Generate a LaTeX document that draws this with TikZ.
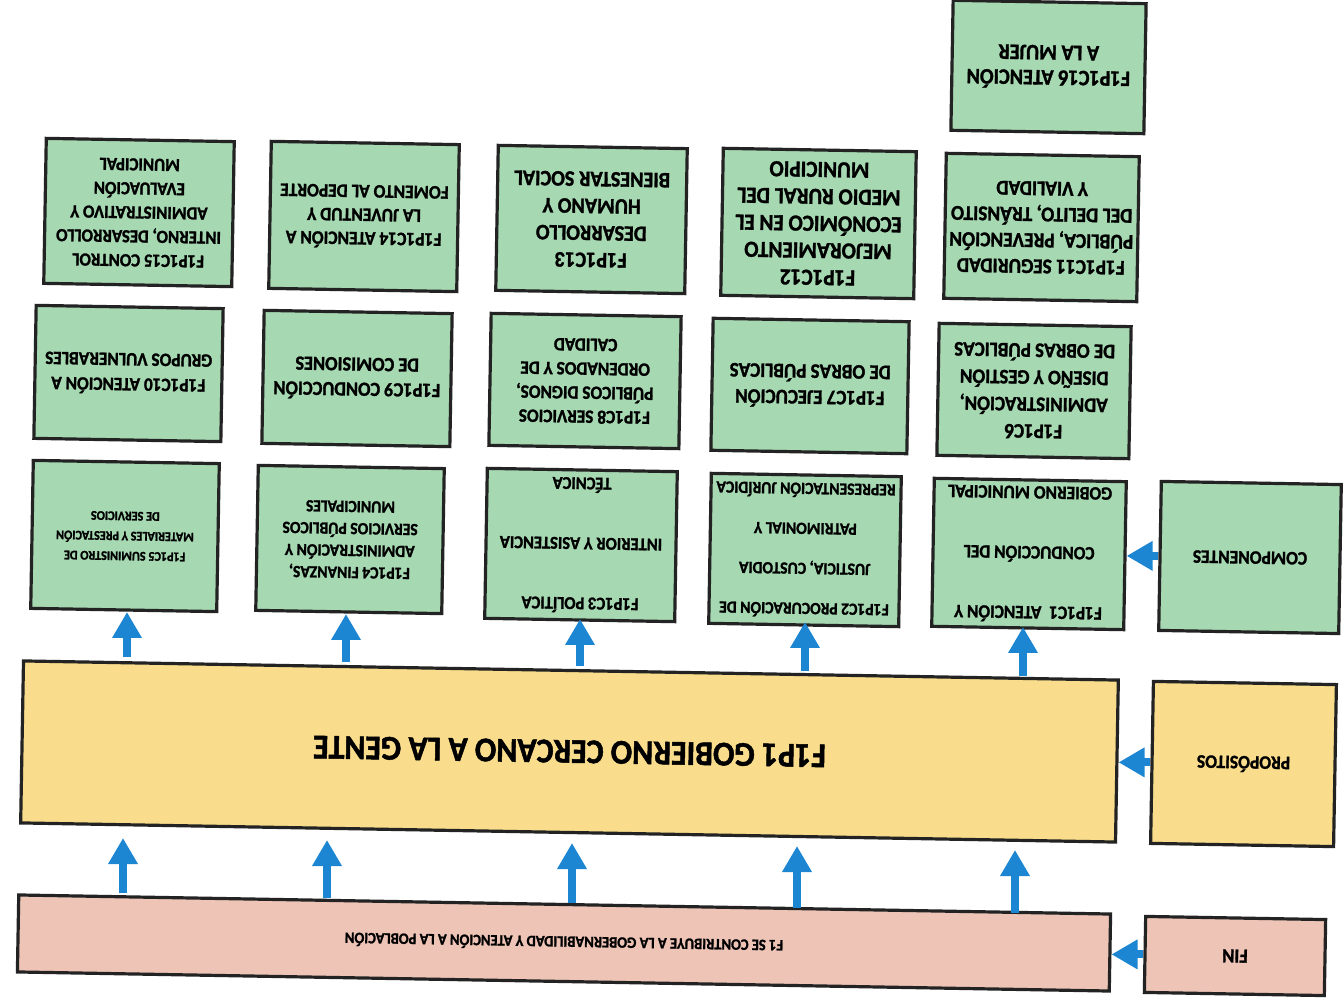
\documentclass[tikz,border=0pt]{standalone}
\usepackage{fontspec}
\setmainfont{Carlito}[FakeStretch=0.92, BoldFeatures={FakeBold=1.4}]
\usetikzlibrary{arrows.meta,calc}
\definecolor{boxgreen}{RGB}{166,216,178}
\definecolor{bandyellow}{RGB}{249,221,140}
\definecolor{bandpink}{RGB}{238,196,182}
\definecolor{arrowblue}{RGB}{28,134,210}
\definecolor{edgegray}{RGB}{35,35,35}
\newcommand{\fsz}[2]{\bfseries\fontsize{#1}{#2}\selectfont}
\tikzset{
  card/.style={draw=edgegray, line width=1.6pt, fill=boxgreen, rotate=179, align=center,
    inner sep=2pt, font=\fsz{9.5}{12}},
  band/.style={draw=edgegray, line width=1.6pt, rotate=179, align=center, inner sep=2pt},
  bluearrow/.style={draw=arrowblue, line width=4pt, -{Triangle[width=14pt,length=13pt]}},
}
\begin{document}
\begin{tikzpicture}[x=0.5pt,y=-0.5pt]
\useasboundingbox (0,0) rectangle (1344,1004);
% top
\node[card, font=\fsz{11}{12.5}, minimum width=96.5pt, minimum height=65pt] (c16) at (1048.5,67) {F1P1C16 ATENCIÓN\\A LA MUJER};
% row 3
\node[card, font=\fsz{9.2}{12}, minimum width=94pt, minimum height=72.5pt] (c15) at (139,212.5) {F1P1C15 CONTROL\\INTERNO, DESARROLLO\\ADMINISTRATIVO Y\\EVALUACIÓN\\MUNICIPAL};
\node[card, font=\fsz{9.5}{11.8}, minimum width=94pt, minimum height=73.5pt] (c14) at (364,216.5) {F1P1C14 ATENCIÓN A\\LA JUVENTUD Y\\FOMENTO AL DEPORTE};
\node[card, font=\fsz{11}{13.5}, minimum width=94.5pt, minimum height=72.5pt] (c13) at (591.5,219.5) {F1P1C13\\DESARROLLO\\HUMANO Y\\BIENESTAR SOCIAL};
\node[card, font=\fsz{11.5}{13.5}, minimum width=96.5pt, minimum height=73.5pt] (c12) at (818.5,223.5) {F1P1C12\\MEJORAMIENTO\\ECONÓMICO EN EL\\MEDIO RURAL DEL\\MUNICIPIO};
\node[card, font=\fsz{10.5}{13}, minimum width=96.5pt, minimum height=72.5pt] (c11) at (1041.5,227.5) {F1P1C11 SEGURIDAD\\PÚBLICA, PREVENCIÓN\\DEL DELITO, TRÁNSITO\\Y VIALIDAD};
% row 2
\node[card, font=\fsz{9.4}{12.5}, minimum width=93.5pt, minimum height=66.5pt] (c10) at (128.5,373.5) {F1P1C10 ATENCIÓN A\\GRUPOS VULNERABLES};
\node[card, font=\fsz{10}{12.5}, minimum width=94pt, minimum height=66.5pt] (c9) at (357,378.5) {F1P1C9 CONDUCCIÓN\\DE COMISIONES};
\node[card, font=\fsz{9.4}{12}, minimum width=95pt, minimum height=66pt] (c8) at (585,381) {F1P1C8 SERVICIOS\\PÚBLICOS DIGNOS,\\ORDENADOS Y DE\\CALIDAD};
\node[card, font=\fsz{10.3}{13}, minimum width=98pt, minimum height=66pt] (c7) at (810,386) {F1P1C7 EJECUCIÓN\\DE OBRAS PÚBLICAS};
\node[card, font=\fsz{10.3}{13.5}, minimum width=96pt, minimum height=66pt] (c6) at (1034,391) {F1P1C6\\ADMINISTRACIÓN,\\DISEÑO Y GESTIÓN\\DE OBRAS PÚBLICAS};
% row 1
\node[card, font=\fsz{6.6}{10}, minimum width=93pt, minimum height=74pt] (c5) at (125,536) {F1P1C5 SUMINISTRO DE\\MATERIALES Y PRESTACIÓN\\DE SERVICIOS};
\node[card, font=\fsz{8.5}{11}, minimum width=93pt, minimum height=72.5pt] (c4) at (350,539.5) {F1P1C4 FINANZAS,\\ADMINISTRACIÓN Y\\SERVICIOS PÚBLICOS\\MUNICIPALES};
\node[card, font=\fsz{9}{30}, minimum width=95pt, minimum height=75pt] (c3) at (581,545) {F1P1C3 POLÍTICA\\INTERIOR Y ASISTENCIA\\TÉCNICA};
\node[card, font=\fsz{8.5}{20}, minimum width=95pt, minimum height=75pt] (c2) at (805,550) {F1P1C2 PROCURACIÓN DE\\JUSTICIA, CUSTODIA\\PATRIMONIAL Y\\REPRESENTACIÓN JURÍDICA};
\node[card, font=\fsz{9.4}{30}, minimum width=96pt, minimum height=74pt] (c1) at (1029,554) {F1P1C1 \ ATENCIÓN Y\\CONDUCCIÓN DEL\\GOBIERNO MUNICIPAL};
\node[card, font=\fsz{9.5}{11}, minimum width=90pt, minimum height=74.5pt] (comp) at (1250,557.5) {COMPONENTES};
% proposito
\node[band, fill=bandyellow, font=\fsz{17.3}{20}, minimum width=547.5pt, minimum height=81pt] (prop) at (569.5,751.5) {F1P1 GOBIERNO CERCANO A LA GENTE};
\node[band, fill=bandyellow, font=\fsz{9.5}{11}, minimum width=91.5pt, minimum height=81pt] (proplbl) at (1243.5,764) {PROPÓSITOS};
% fin
\node[band, fill=bandpink, font=\fsz{7.9}{9}, minimum width=546pt, minimum height=38.5pt] (fin) at (564,943) {F1 SE CONTRIBUYE A LA GOBERNABILIDAD Y ATENCIÓN A LA POBLACIÓN};
\node[band, fill=bandpink, font=\fsz{10}{11}, minimum width=90pt, minimum height=38pt] (finlbl) at (1235,956) {FIN};
% arrows fin -> proposito
\foreach \i/\x/\a/\b in {1/123/893/838, 2/327/898/840, 3/572/903/843, 4/797/908/846, 5/1015/913/850}{
  \coordinate (ft\i) at (\x,\a);
  \coordinate (fh\i) at (\x,\b);
  \draw[bluearrow] (ft\i) -- (fh\i);
}
% arrows proposito -> componentes
\foreach \i/\x/\a/\b in {1/127/657/612, 2/346/662/614, 3/580/666/619, 4/805/671/622, 5/1023/676/627}{
  \coordinate (pt\i) at (\x,\a);
  \coordinate (ph\i) at (\x,\b);
  \draw[bluearrow] (pt\i) -- (ph\i);
}
% side arrows
\draw[bluearrow] (finlbl.east) -- (finlbl.east -| fin.west);
\draw[bluearrow] (proplbl.east) -- (proplbl.east -| prop.west);
\draw[bluearrow] (comp.east) -- (comp.east -| c1.west);
\end{tikzpicture}
\end{document}
